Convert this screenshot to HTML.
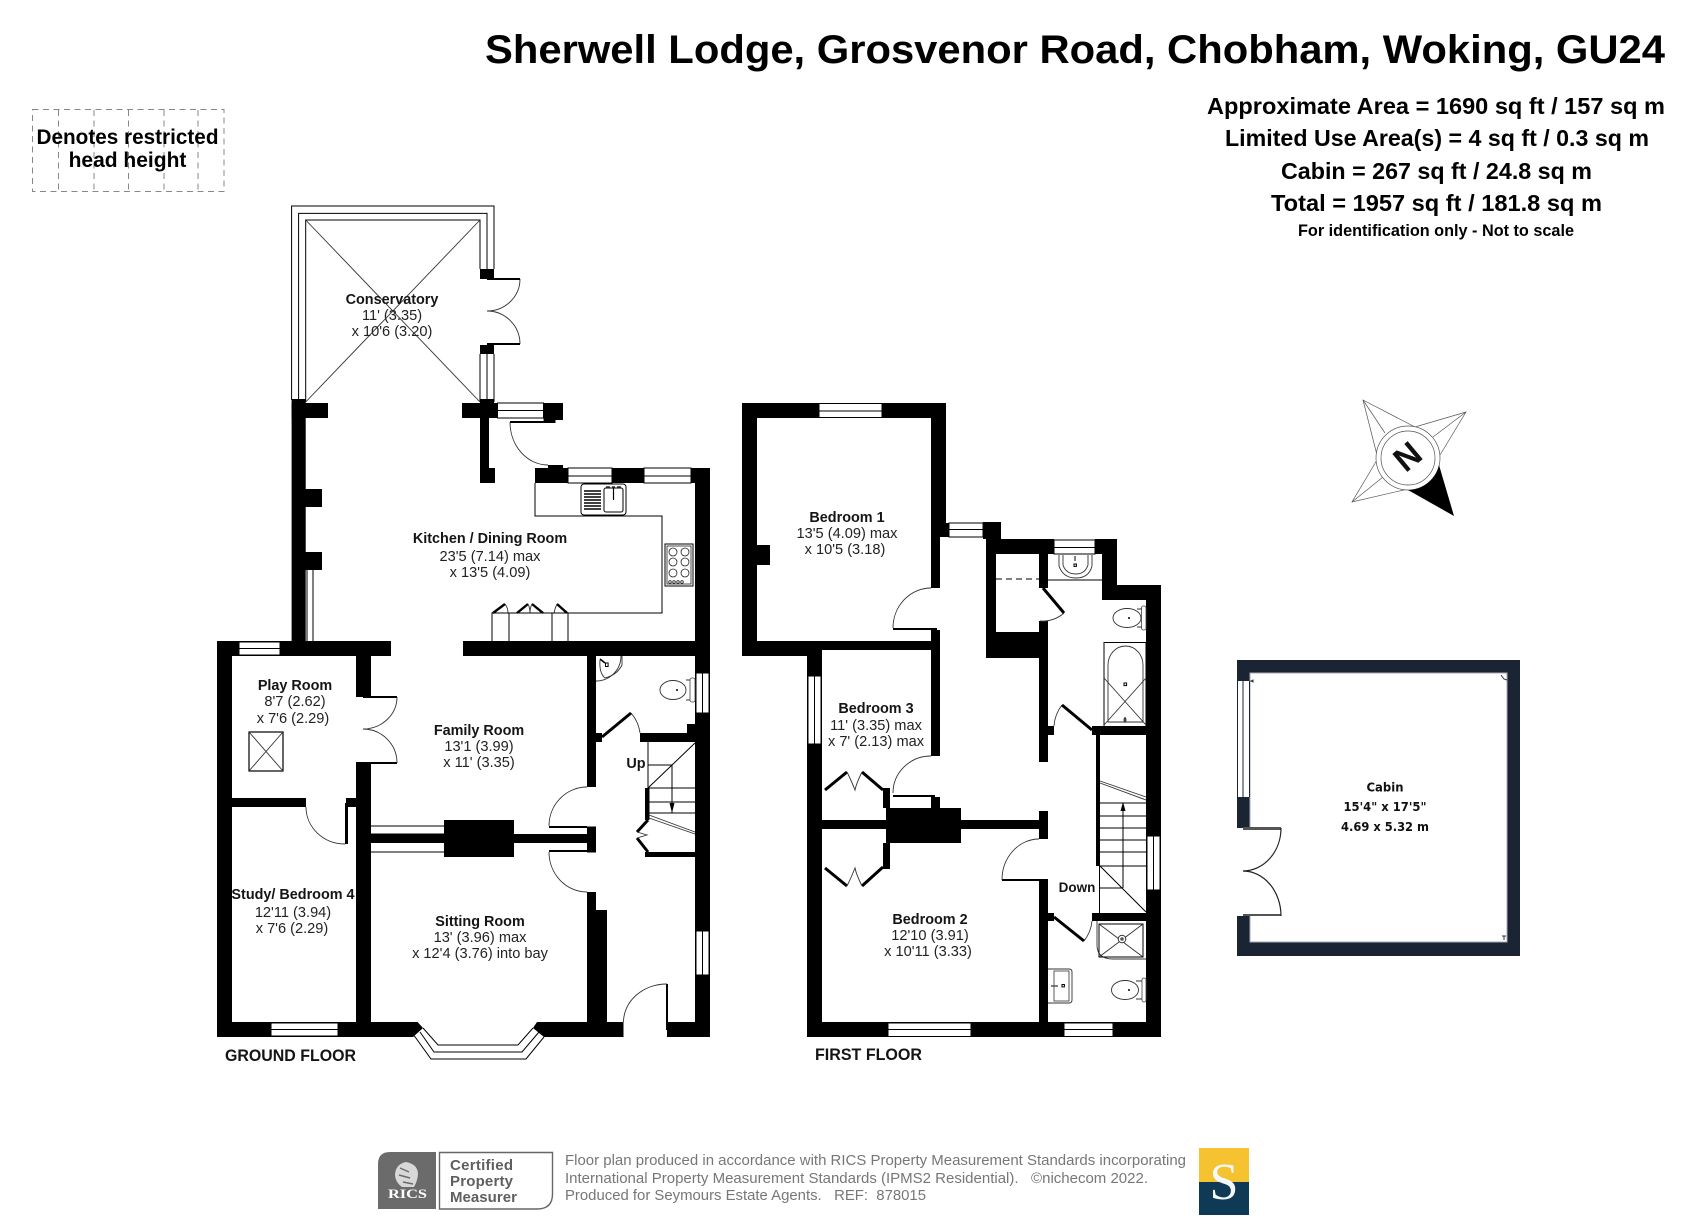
<!DOCTYPE html>
<html>
<head>
<meta charset="utf-8">
<style>
html,body{margin:0;padding:0;background:#fff}
svg{display:block}
text{font-family:"Liberation Sans",sans-serif;fill:#151515}
.b{font-weight:bold;font-size:14.4px;text-anchor:middle}
.r{font-size:14.6px;text-anchor:middle;fill:#222}
.l{stroke:#000;stroke-width:1;fill:none}
.t{stroke:#333;stroke-width:.9;fill:none}
.w{fill:#fff;stroke:#000;stroke-width:1}
.k{stroke:#000;stroke-width:3;fill:none}
.a{font-weight:bold;font-size:23px}
.f{font-size:14.5px;fill:#777}
.c{font-family:"DejaVu Sans",sans-serif;font-weight:bold;font-size:12.5px;text-anchor:middle;fill:#111}
</style>
</head>
<body>
<svg width="1693" height="1229" viewBox="0 0 1693 1229" xmlns="http://www.w3.org/2000/svg">
<rect width="1693" height="1229" fill="#fff"/>

<!-- header -->
<text x="485" y="63" font-size="40" font-weight="bold" textLength="1180" lengthAdjust="spacingAndGlyphs" style="fill:#000">Sherwell Lodge, Grosvenor Road, Chobham, Woking, GU24</text>
<text class="a" x="1207" y="114" textLength="458" lengthAdjust="spacingAndGlyphs" style="fill:#000">Approximate Area = 1690 sq ft / 157 sq m</text>
<text class="a" x="1225" y="146" textLength="424" lengthAdjust="spacingAndGlyphs" style="fill:#000">Limited Use Area(s) = 4 sq ft / 0.3 sq m</text>
<text class="a" x="1281" y="179" textLength="311" lengthAdjust="spacingAndGlyphs" style="fill:#000">Cabin = 267 sq ft / 24.8 sq m</text>
<text class="a" x="1271" y="211" textLength="331" lengthAdjust="spacingAndGlyphs" style="fill:#000">Total = 1957 sq ft / 181.8 sq m</text>
<text x="1298" y="236" font-size="17" font-weight="bold" textLength="276" lengthAdjust="spacingAndGlyphs" style="fill:#000">For identification only - Not to scale</text>

<!-- restricted head height -->
<g stroke="#888" stroke-width="1" stroke-dasharray="6 4.5" fill="none">
<rect x="32.5" y="109.5" width="191.5" height="82"/>
<path d="M58.5 110V192M94 110V192M128.5 110V192M164 110V192M198 110V192"/>
</g>
<text x="127.5" y="144" font-size="21" font-weight="bold" text-anchor="middle" textLength="182" lengthAdjust="spacingAndGlyphs" style="fill:#000">Denotes restricted</text>
<text x="127.5" y="167" font-size="21" font-weight="bold" text-anchor="middle" style="fill:#000">head height</text>

<!-- conservatory -->
<g class="l">
<path class="l" d="M291.6 400V206H494V269M298.6 400V213.4H487V269M305.7 402V220H480V269"/>
<path class="l" d="M480 354V402M487 354V402M494 354V402"/>
<path class="t" d="M305.7 220L480 402M480 220L305.7 402"/>
<path class="t" d="M520 279A33 32 0 0 1 487 311A33 33 0 0 1 520 344"/>
</g>

<g fill="#000">
<!-- ground floor walls -->
<rect x="217" y="641" width="15" height="396"/>
<rect x="217" y="641" width="174" height="15"/>
<rect x="356" y="641" width="15" height="56"/>
<rect x="356" y="762" width="15" height="275"/>
<rect x="363" y="696" width="34" height="2"/>
<rect x="363" y="762" width="34" height="2"/>
<rect x="232" y="798" width="74" height="9"/>
<rect x="346" y="798" width="10" height="9"/>
<rect x="345" y="803" width="3" height="41"/>
<rect x="371" y="834" width="73" height="9"/>
<rect x="444" y="820" width="70" height="37"/>
<rect x="514" y="834" width="73" height="9"/>
<rect x="549" y="826" width="38" height="2"/>
<rect x="549" y="850" width="38" height="2"/>
<rect x="587" y="826.5" width="9" height="26"/>
<rect x="463" y="641" width="247" height="15"/>
<rect x="587" y="656" width="9" height="131"/>
<rect x="596" y="733" width="6" height="9"/>
<rect x="640" y="733" width="55" height="9"/>
<rect x="687" y="724" width="8" height="9"/>
<rect x="695" y="468" width="15" height="569"/>
<rect x="587" y="892" width="9" height="145"/>
<rect x="596" y="910" width="11" height="112"/>
<polygon points="217,1022 417.6,1022 423,1028 413,1037 217,1037"/>
<polygon points="537,1022 623.5,1022 623.5,1037 544,1037 533,1028"/>
<rect x="667" y="1022" width="43" height="15"/>
<rect x="666" y="984" width="2" height="46"/>
<!-- kitchen / conservatory walls -->
<rect x="291.6" y="399" width="14.1" height="242"/>
<rect x="291.6" y="403" width="36.4" height="15"/>
<rect x="305" y="489" width="17" height="18"/>
<rect x="305" y="552" width="17" height="18"/>
<rect x="462" y="403" width="36" height="15"/>
<rect x="480" y="399" width="14" height="19"/>
<rect x="480" y="345" width="14" height="9"/>
<rect x="480" y="269" width="14" height="10"/>
<rect x="487" y="278" width="33" height="2"/>
<rect x="487" y="343" width="33" height="2"/>
<rect x="480" y="418" width="9" height="50"/>
<rect x="480" y="468" width="15" height="15"/>
<rect x="543.6" y="403" width="19.4" height="17"/>
<rect x="543.6" y="418" width="11.9" height="5"/>
<rect x="510" y="421" width="40" height="2"/>
<rect x="535" y="468" width="33" height="15"/>
<rect x="548" y="465" width="15" height="4"/>
<rect x="612" y="468" width="32" height="15"/>
<rect x="691" y="468" width="19" height="15"/>
<!-- ground floor stair surrounds -->
<rect x="645" y="788" width="4.5" height="32"/>
<rect x="645" y="852" width="50" height="5"/>
<!-- first floor walls -->
<rect x="742" y="403" width="15" height="253"/>
<rect x="742" y="403" width="204" height="15"/>
<rect x="931" y="403" width="15" height="134"/>
<rect x="931" y="537" width="9" height="51"/>
<rect x="893" y="628" width="44" height="2"/>
<rect x="931" y="630" width="9" height="126"/>
<rect x="742" y="641" width="198" height="9"/>
<rect x="742" y="650" width="65" height="6"/>
<rect x="807" y="650" width="15" height="387"/>
<rect x="757" y="545" width="13" height="20"/>
<rect x="893" y="795" width="42" height="2"/>
<rect x="931" y="797" width="9" height="11"/>
<rect x="886" y="808" width="75" height="35"/>
<rect x="822" y="820" width="64" height="9"/>
<rect x="961" y="820" width="78" height="9"/>
<rect x="1039" y="811" width="9" height="28"/>
<rect x="883" y="788" width="7" height="20"/>
<rect x="883" y="843" width="7" height="26"/>
<rect x="1002" y="879" width="37" height="2"/>
<rect x="1039" y="879" width="9" height="143"/>
<rect x="1048" y="913" width="6" height="8"/>
<rect x="1092" y="913" width="55" height="8"/>
<rect x="807" y="1022" width="354" height="15"/>
<rect x="1146" y="585" width="15" height="452"/>
<rect x="1096" y="735" width="4" height="131"/>
<rect x="1092" y="726" width="55" height="9"/>
<rect x="983" y="522" width="18" height="17"/>
<rect x="986" y="539" width="10" height="119"/>
<rect x="986" y="539" width="68" height="15"/>
<rect x="1095" y="539" width="22" height="15"/>
<rect x="1102" y="554" width="15" height="46"/>
<rect x="1102" y="585" width="59" height="15"/>
<rect x="1039" y="554" width="9" height="34"/>
<rect x="1039" y="621" width="9" height="141"/>
<rect x="986" y="632" width="62" height="26"/>
<rect x="1048" y="726" width="6" height="9"/>
<rect x="940" y="523" width="9" height="14"/>
</g>

<!-- windows -->
<g class="w">
<rect x="239" y="642" width="41" height="13"/><path d="M239 648.5H280"/>
<rect x="271" y="1023" width="67" height="13"/><path d="M271 1029.5H338"/>
<rect x="696" y="673" width="13" height="40"/><path d="M702.5 673V713"/>
<rect x="696" y="931" width="13" height="44"/><path d="M702.5 931V975"/>
<rect x="497.5" y="403" width="46" height="15"/><path d="M497.5 410.5H543.5"/>
<rect x="568" y="468" width="44" height="15"/><path d="M568 476H612"/>
<rect x="644" y="468" width="47" height="15"/><path d="M644 476H691"/>
<rect x="819" y="403.5" width="63" height="14"/><path d="M819 411H882"/>
<rect x="808" y="676" width="13" height="68"/><path d="M814.5 676V744"/>
<rect x="949" y="523" width="34" height="14"/><path d="M949 529.5H983"/>
<rect x="1054" y="540" width="41" height="14"/><path d="M1054 547.5H1095"/>
<rect x="888" y="1023" width="83" height="13.5"/><path d="M888 1029.5H971"/>
<rect x="1064" y="1023" width="49" height="13.5"/><path d="M1064 1029.5H1113"/>
<rect x="1147" y="836" width="13" height="54"/><path d="M1153.5 836V890"/>
</g>
<path class="l" d="M307 570V641M313 570V641"/>
<path class="l" d="M371 826H444M371 852H444M371 834H444"/>

<!-- bay window -->
<path class="l" d="M413 1034L431 1059H526L544 1037M420 1032L434 1052H522L539 1032M423 1028L438 1045H518L533 1028"/>

<!-- door arcs -->
<g class="t">
<path d="M397 697A34 32 0 0 1 363 729A34 34 0 0 1 397 763"/>
<path d="M306 807A39 37 0 0 0 345 844"/>
<path d="M549 826A38 39 0 0 1 587 787"/>
<path d="M549 852A38 40 0 0 0 587 892"/>
<path d="M510 422A38 43 0 0 0 548 465"/>
<path d="M667 984A43.5 38 0 0 0 623.5 1022"/>
<path d="M631 713A38 38 0 0 1 640 733"/>
<path d="M893 628A38 40 0 0 1 931 588"/>
<path d="M893 793A38 37 0 0 1 931 756"/>
<path d="M1002 880A37 41 0 0 1 1039 839"/>
<path d="M1084 941A38 38 0 0 0 1092 921"/>
<path d="M1062 705A38 38 0 0 0 1054 726"/>
<path d="M1064 613A33 33 0 0 1 1040 621"/>
</g>
<g class="k">
<path d="M602 737L631 713"/>
<path d="M1054 917L1084 941"/>
<path d="M1092 730L1062 705"/>
<path d="M1043 588L1064 613"/>
<!-- wardrobes -->
<path d="M883 790L862 772M847 772L825 790"/>
<path d="M883 867L862 886M847 886L825 868"/>
<!-- understairs cupboard -->
<path d="M648 820L637 832M637 838L648 852"/>
<path d="M493 613L505 604M517 613L528 604M543 613L532 604M567 613L557 604" stroke-width="2.4"/>
</g>
<g class="t">
<path d="M862 772C858 780 856 785 855 790C853 785 851 780 847 772"/>
<path d="M862 886C858 878 856 873 855 868C853 873 851 878 847 886"/>
<path d="M637 832L647 835L637 838"/>
<path d="M505 604Q508 608 508 613M528 604Q530 608 530 613M532 604Q530 608 530 613M557 604Q555 608 554 613"/>
</g>

<!-- kitchen fittings -->
<path class="l" d="M535 483V516H662V613H492V641M509 613V641M552 613V641M568 613V641"/>
<rect x="581" y="484" width="45" height="31" rx="3" fill="#fff" stroke="#000" stroke-width="1"/>
<rect x="604" y="488" width="19" height="24" rx="2" fill="#fff" stroke="#000" stroke-width="1"/>
<path d="M584 491H601M584 494H601M584 497H601M584 500H601M584 503H601M584 506H601M584 509H601" stroke="#000" stroke-width="1.6"/>
<path d="M613.5 487V500" stroke="#000" stroke-width="1.2"/>
<path d="M606 487H610M612 487H615M617 487H621" stroke="#333" stroke-width="1.4"/>
<rect x="665" y="544" width="28" height="42" fill="#fff" stroke="#000" stroke-width="1"/>
<rect x="667" y="546" width="24" height="38" fill="none" stroke="#000" stroke-width=".7"/>
<g fill="none" stroke="#222" stroke-width=".8">
<circle cx="673" cy="552" r="4"/><circle cx="685" cy="552" r="4"/>
<circle cx="673" cy="562" r="4"/><circle cx="685" cy="562" r="4"/>
<circle cx="673" cy="573" r="4"/><circle cx="685" cy="573" r="4"/>
<circle cx="670" cy="582" r="1.3"/><circle cx="674" cy="582" r="1.3"/><circle cx="678" cy="582" r="1.3"/><circle cx="682" cy="582" r="1.3"/>
</g>

<!-- play room skylight -->
<rect x="249" y="732" width="34" height="39" fill="none" stroke="#000" stroke-width="1.2"/>
<path class="t" d="M249 732L283 771M283 732L249 771"/>

<!-- ground floor WC -->
<path class="t" d="M600 660Q599 673 605 678Q617 675 622 665V656"/>
<path class="t" d="M621 656A25 25 0 0 1 596 681"/>
<path d="M600 659L605 663" stroke="#000" stroke-width="1.5"/>
<rect x="605.5" y="663" width="2.6" height="3.5" fill="none" stroke="#000"/>
<ellipse cx="673" cy="690" rx="13" ry="9.5" fill="#fff" stroke="#333" stroke-width=".9"/>
<path class="t" d="M686 680H691M686 700H691"/>
<rect x="690" y="678" width="5" height="24" rx="2" fill="#fff" stroke="#444" stroke-width=".8"/>
<circle cx="677" cy="690" r="1" fill="#000"/>

<!-- ground floor stairs -->
<path class="l" d="M648 742V788M695 743L648 788M648 765H672V813M648 788H695M648 802H695M648 813H695"/>
<path d="M672 813L669.5 803H674.5Z" fill="#000"/>
<path class="t" d="M649 815L695 832M649 818L695 834"/>

<!-- first floor fittings -->
<path class="l" d="M1048 580H1102"/>
<path d="M996 579H1039" stroke="#000" stroke-width="1" stroke-dasharray="6 4"/>
<path class="t" d="M1059 555V566Q1063 578 1076 578Q1089 578 1092 566V555M1063 555V565Q1066 574 1076 574Q1085 574 1088 565V555"/>
<rect x="1074" y="564" width="2.4" height="2.4" fill="none" stroke="#000"/>
<path d="M1075 556V561" stroke="#000"/>
<ellipse cx="1127" cy="618" rx="14" ry="9.5" fill="#fff" stroke="#333" stroke-width=".9"/>
<rect x="1141.5" y="606" width="4.5" height="24" rx="2" fill="#fff" stroke="#444" stroke-width=".8"/>
<path class="t" d="M1137 609H1142M1137 627H1142"/>
<circle cx="1129" cy="618" r="1" fill="#000"/>
<rect x="1104" y="642.5" width="42" height="84" fill="none" stroke="#000" stroke-width="1"/>
<path class="t" d="M1108 722V665A17.5 19 0 0 1 1143 665V722Z"/>
<path class="t" d="M1104 678L1146 725M1146 678L1104 725"/>
<rect x="1124" y="683" width="2.6" height="2.6" fill="none" stroke="#000"/>
<ellipse cx="1125" cy="720" rx="1.5" ry="3" fill="#444"/>

<!-- first floor stairs -->
<path class="t" d="M1100 781L1146 797M1100 783L1146 800"/>
<path class="l" d="M1100 803H1147M1100 816H1147M1100 828H1147M1100 840H1147M1100 852H1147M1100 866H1147M1123 803V888M1100 888H1123M1099.5 866V913M1100 866L1146 912"/>
<path d="M1123 802L1120.5 811H1125.5Z" fill="#000"/>

<!-- shower -->
<path class="t" d="M1097 921V945Q1097 959 1113 959H1146"/>
<rect x="1099" y="924" width="44" height="33" fill="none" stroke="#000" stroke-width="1"/>
<path class="t" d="M1099 924L1143 957M1143 924L1099 957"/>
<circle cx="1122" cy="939" r="3.8" fill="#fff" stroke="#333"/>
<circle cx="1122" cy="939" r="1.8" fill="#555"/>

<!-- lower basin -->
<path class="t" d="M1048 969H1069Q1072 969 1072 972V1000Q1072 1003 1069 1003H1048"/>
<rect x="1054" y="971" width="15" height="30" fill="none" stroke="#333" stroke-width=".8"/>
<rect x="1062" y="984.5" width="2.4" height="2.4" fill="none" stroke="#000"/>
<path d="M1051 986H1058" stroke="#555" stroke-width="1.5"/>
<ellipse cx="1125" cy="990" rx="13.5" ry="9.5" fill="#fff" stroke="#333" stroke-width=".9"/>
<rect x="1142" y="978" width="4" height="24" rx="2" fill="#fff" stroke="#444" stroke-width=".8"/>
<path class="t" d="M1136 981H1142M1136 999H1142"/>
<circle cx="1129" cy="990" r="1" fill="#000"/>

<!-- room labels -->
<text class="b" x="392" y="304">Conservatory</text>
<text class="r" x="392" y="320">11' (3.35)</text>
<text class="r" x="392" y="336">x 10'6 (3.20)</text>

<text class="b" x="490" y="543">Kitchen / Dining Room</text>
<text class="r" x="490" y="561">23'5 (7.14) max</text>
<text class="r" x="490" y="577">x 13'5 (4.09)</text>

<text class="b" x="295" y="690">Play Room</text>
<text class="r" x="295" y="706">8'7 (2.62)</text>
<text class="r" x="293" y="723">x 7'6 (2.29)</text>

<text class="b" x="479" y="735">Family Room</text>
<text class="r" x="479" y="751">13'1 (3.99)</text>
<text class="r" x="479" y="767">x 11' (3.35)</text>

<text class="b" x="293" y="899">Study/ Bedroom 4</text>
<text class="r" x="293" y="917">12'11 (3.94)</text>
<text class="r" x="292" y="933">x 7'6 (2.29)</text>

<text class="b" x="480" y="926">Sitting Room</text>
<text class="r" x="480" y="942">13' (3.96) max</text>
<text class="r" x="480" y="958">x 12'4 (3.76) into bay</text>

<text class="b" x="636" y="768">Up</text>

<text class="b" x="847" y="522">Bedroom 1</text>
<text class="r" x="847" y="538">13'5 (4.09) max</text>
<text class="r" x="845" y="554">x 10'5 (3.18)</text>

<text class="b" x="876" y="713">Bedroom 3</text>
<text class="r" x="876" y="730">11' (3.35) max</text>
<text class="r" x="876" y="746">x 7' (2.13) max</text>

<text class="b" x="930" y="924">Bedroom 2</text>
<text class="r" x="930" y="940">12'10 (3.91)</text>
<text class="r" x="928" y="956">x 10'11 (3.33)</text>

<text class="b" x="1077" y="892" style="font-size:13.5px">Down</text>

<text x="225" y="1061" font-size="16.5" font-weight="bold" textLength="131" lengthAdjust="spacingAndGlyphs">GROUND FLOOR</text>
<text x="815" y="1060" font-size="16.5" font-weight="bold" textLength="107" lengthAdjust="spacingAndGlyphs">FIRST FLOOR</text>

<!-- compass -->
<g fill="none" stroke="#555" stroke-width=".7">
<path d="M1377 455L1363 400L1415 427L1466 412L1440 455M1377 460L1352 502L1408 489"/>
<path d="M1363 400L1385 433M1466 412L1433 437M1352 502L1383 477"/>
<circle cx="1408" cy="458" r="32" fill="#fff" stroke="#555"/>
<circle cx="1408" cy="458" r="27"/>
</g>
<path d="M1454 516L1439 465A32 32 0 0 1 1408 490Z" fill="#000"/>
<text x="1408" y="457" font-size="34" font-weight="bold" text-anchor="middle" dominant-baseline="central" transform="rotate(-40 1408 457)" style="fill:#111">N</text>

<!-- cabin -->
<rect x="1237" y="660" width="283" height="296" fill="#1a2433"/>
<rect x="1250" y="673" width="257" height="269" fill="#fff" stroke="#aab" stroke-width="1"/>
<rect x="1237" y="681" width="13" height="116" fill="#fff"/>
<path d="M1237.5 681V797M1243 681V797M1249.5 681V797" stroke="#1a2433" stroke-width="1"/>
<rect x="1237" y="828" width="14" height="88" fill="#fff"/>
<rect x="1243" y="827" width="38" height="3" fill="#555"/>
<rect x="1243" y="914" width="38" height="2" fill="#555"/>
<path d="M1281 828A38 43 0 0 1 1243 871A38 45 0 0 1 1281 916" fill="none" stroke="#222" stroke-width="1.2"/>
<path d="M1501 675l3 4 3 1M1502 936h4M1504 936v4M1251 681l2 -1v2z" stroke="#333" stroke-width="1" fill="none"/>
<text class="c" x="1385" y="791.5" textLength="37" lengthAdjust="spacingAndGlyphs">Cabin</text>
<text class="c" x="1385" y="811" textLength="83" lengthAdjust="spacingAndGlyphs">15'4" x 17'5"</text>
<text class="c" x="1385" y="831" textLength="88" lengthAdjust="spacingAndGlyphs">4.69 x 5.32 m</text>

<!-- footer -->
<path d="M390 1152H436V1209H378V1164Q378 1152 390 1152Z" fill="#6b6b6b"/>
<path d="M406 1162Q396 1164 395 1174Q395 1182 402 1187H414Q418 1180 418 1173Q417 1164 406 1162Z" fill="#d8d8d8"/>
<path d="M400 1168L409 1172M399 1175L410 1178M403 1182L413 1184" stroke="#6b6b6b" stroke-width="1.5"/>
<text x="388" y="1198" font-size="12.5" font-weight="bold" textLength="39" lengthAdjust="spacingAndGlyphs" style="font-family:'Liberation Serif',serif;fill:#fff">RICS</text>
<path d="M439.5 1152.5H552.5V1194Q552.5 1209 537 1209H439.5Z" fill="#fff" stroke="#666" stroke-width="1.4"/>
<text x="450" y="1170" font-size="15" font-weight="bold" textLength="63" lengthAdjust="spacing" style="fill:#5f5f5f">Certified</text>
<text x="450" y="1186" font-size="15" font-weight="bold" textLength="63" lengthAdjust="spacing" style="fill:#5f5f5f">Property</text>
<text x="450" y="1202" font-size="15" font-weight="bold" textLength="67" lengthAdjust="spacing" style="fill:#5f5f5f">Measurer</text>
<text class="f" x="565" y="1165" textLength="621" lengthAdjust="spacingAndGlyphs">Floor plan produced in accordance with RICS Property Measurement Standards incorporating</text>
<text class="f" x="565" y="1183" textLength="583" lengthAdjust="spacingAndGlyphs">International Property Measurement Standards (IPMS2 Residential). &#160; ©nichecom 2022.</text>
<text class="f" x="565" y="1200" textLength="361" lengthAdjust="spacingAndGlyphs">Produced for Seymours Estate Agents. &#160; REF: &#160;878015</text>
<rect x="1199" y="1148" width="50" height="34" fill="#f5c330"/>
<rect x="1199" y="1182" width="50" height="33" fill="#0f3a55"/>
<text x="1224" y="1199" font-size="52" text-anchor="middle" style="font-family:'Liberation Serif',serif;fill:#f3f8fb">S</text>
</svg>
</body>
</html>
